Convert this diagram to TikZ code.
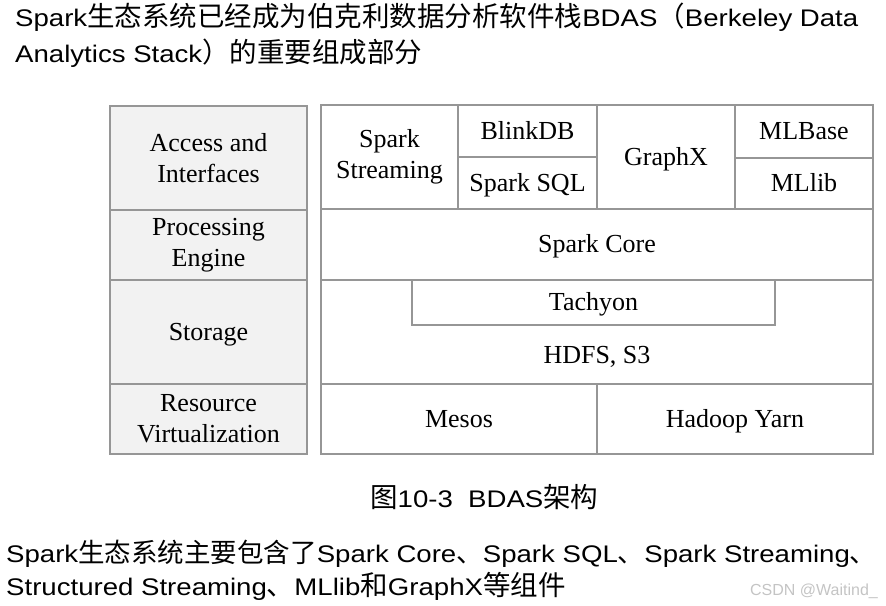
\documentclass[tikz,border=0pt]{standalone}
\usepackage{fontspec}
\setmainfont{Liberation Serif}
\newfontfamily\arial{Liberation Sans}[FakeStretch=1.15]
\newfontfamily\arialplain{Liberation Sans}
\newfontfamily\cjk{Noto Sans CJK SC}
\definecolor{edgegray}{HTML}{969696}
\definecolor{leftfill}{HTML}{F2F2F2}
\definecolor{markgray}{HTML}{C4C4C4}
\tikzset{
  cellbox/.style={draw=edgegray, line width=1.3pt, inner sep=0pt, align=center,
    font=\fontsize{26}{31}\selectfont},
  oneline/.style={text height=20pt, text depth=4pt},
  leftcell/.style={cellbox, fill=leftfill},
  rightcell/.style={cellbox, fill=white},
  rightone/.style={rightcell, oneline},
  plainlabel/.style={inner sep=0pt, font=\fontsize{26}{31}\selectfont},
  para/.style={inner sep=0pt, anchor=base west, font=\fontsize{24}{30}\selectfont},
}
\newcommand\cj[1]{{\fontsize{27.5}{30}\selectfont\cjk #1}}
\newcommand\cjs[1]{{\fontsize{26.5}{30}\selectfont\cjk #1}}
\newcommand\mkcell[7]{%
  \node[#1, minimum width={#4-#2}, minimum height={#5-#3}] (#6)
    at ({(#2+#4)/2},{(#3+#5)/2}) {#7};}
\begin{document}
\begin{tikzpicture}[x=1pt,y=-1pt]
\useasboundingbox (0,0) rectangle (886,605);

% top paragraph
\node[para] (p1) at (15,27) {{\arial Spark}\cj{生态系统已经成为伯克利数据分析软件栈}{\arial BDAS}\cj{（}{\arial Berkeley Data}};
\node[para] (p2) at (15,62) {{\arial Analytics Stack}\cj{）的重要组成部分}};

% left column
\mkcell{leftcell}{110}{106}{307}{210}{lAccess}{Access and\\Interfaces}
\mkcell{leftcell}{110}{210}{307}{280}{lProc}{Processing\\Engine}
\mkcell{leftcell,oneline}{110}{280}{307}{384}{lStore}{Storage}
\mkcell{leftcell}{110}{384}{307}{454}{lRes}{Resource\\Virtualization}

% right block
\mkcell{rightcell}{321}{105}{458}{209}{streaming}{Spark\\Streaming}
\mkcell{rightone}{458}{105}{597}{157}{blinkdb}{BlinkDB}
\mkcell{rightone}{458}{157}{597}{209}{sparksql}{Spark SQL}
\mkcell{rightone}{597}{105}{735}{209}{graphx}{GraphX}
\mkcell{rightone}{735}{105}{873}{158}{mlbase}{MLBase}
\mkcell{rightone}{735}{158}{873}{209}{mllib}{MLlib}
\mkcell{rightone}{321}{209}{873}{280}{core}{Spark Core}
\mkcell{rightcell}{321}{280}{873}{384}{storage}{}
\mkcell{rightone}{412}{280}{775}{325}{tachyon}{Tachyon}
\node[plainlabel, anchor=base] (hdfs) at (597,363) {HDFS, S3};
\mkcell{rightone}{321}{384}{597}{454}{mesos}{Mesos}
\mkcell{rightone}{597}{384}{873}{454}{yarn}{Hadoop Yarn}

% caption
\node[para] (cap) at (370,507) {\cj{图}{\arial 10-3\ \ BDAS}\cj{架构}};

% bottom paragraph
\node[para] (b1) at (6,562) {{\arial Spark}\cjs{生态系统主要包含了}{\arial Spark Core}\cjs{、}{\arial Spark SQL}\cjs{、}{\arial Spark Streaming}\cjs{、}};
\node[para] (b2) at (6,595) {{\arial Structured Streaming}\cj{、}{\arial MLlib}\cj{和}{\arial GraphX}\cj{等组件}};
\node[inner sep=0pt, anchor=base east, text=markgray, font=\arialplain\fontsize{16}{18}\selectfont] (mark) at (878,595) {CSDN @Waitind\_};
\end{tikzpicture}
\end{document}
